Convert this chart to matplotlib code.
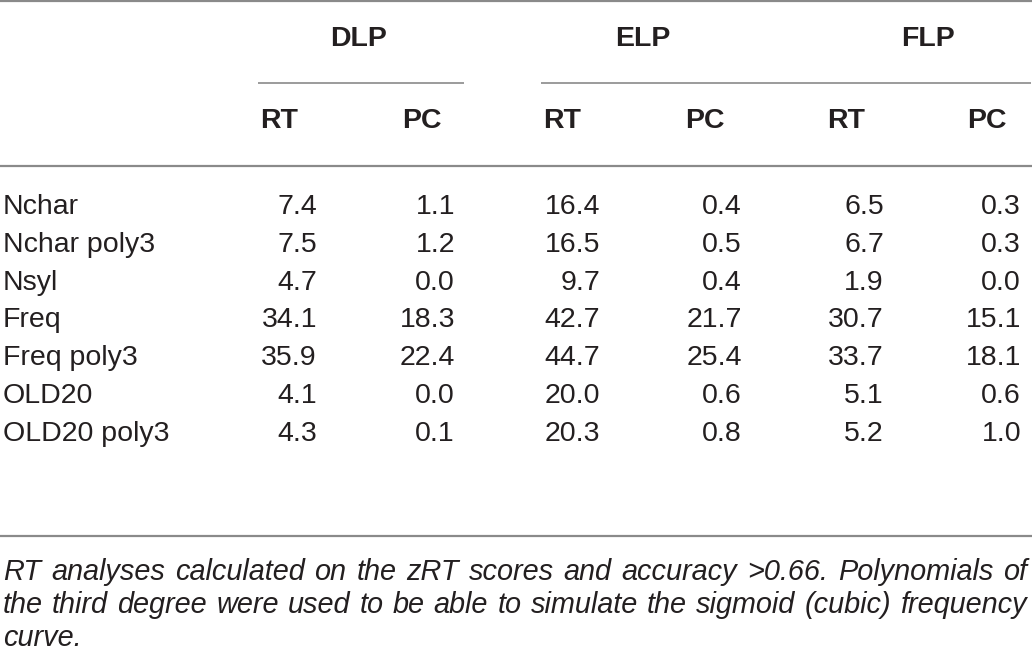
import matplotlib
matplotlib.use("Agg")
import matplotlib.pyplot as plt
from matplotlib import font_manager

# --- table content ---------------------------------------------------------------
groups = ["DLP", "ELP", "FLP"]
subcols = ["RT", "PC", "RT", "PC", "RT", "PC"]
rows = ["Nchar", "Nchar poly3", "Nsyl", "Freq", "Freq poly3", "OLD20", "OLD20 poly3"]
dlp_rt = [7.4, 7.5, 4.7, 34.1, 35.9, 4.1, 4.3]
dlp_pc = [1.1, 1.2, 0.0, 18.3, 22.4, 0.0, 0.1]
elp_rt = [16.4, 16.5, 9.7, 42.7, 44.7, 20.0, 20.3]
elp_pc = [0.4, 0.5, 0.4, 21.7, 25.4, 0.6, 0.8]
flp_rt = [6.5, 6.7, 1.9, 30.7, 33.7, 5.1, 5.2]
flp_pc = [0.3, 0.3, 0.0, 15.1, 18.1, 0.6, 1.0]
footnote = [
    "RT analyses calculated on the zRT scores and accuracy >0.66. Polynomials of",
    "the third degree were used to be able to simulate the sigmoid (cubic) frequency",
    "curve.",
]

W, H = 1032, 663
INK = "#231f20"
RULE = "#8a8a8a"
BODY = "Liberation Sans"


def _has_font(name):
    try:
        font_manager.findfont(name, fallback_to_default=False)
        return True
    except Exception:
        return False


NOTE_FONT = "Liberation Sans Narrow" if _has_font("Liberation Sans Narrow") else BODY

fig = plt.figure(figsize=(W / 100, H / 100), dpi=100)
ax = fig.add_axes([0, 0, 1, 1])
ax.set_xlim(0, W)
ax.set_ylim(H, 0)
ax.axis("off")

# rules (pixel space)
ax.hlines([1, 166, 536], 0, W, color=RULE, lw=1.6)
ax.hlines(83, 258, 464, color=RULE, lw=1.2)
ax.hlines(83, 541, 1031, color=RULE, lw=1.2)

# headers
group_x = [359, 643, 928]
for g, gx in zip(groups, group_x):
    ax.text(gx, 39, g, ha="center", va="center", fontsize=20.5,
            fontweight="bold", family=BODY, color=INK)
sub_x = [260, 402, 543, 685, 827, 967]
for s, sx in zip(subcols, sub_x):
    ax.text(sx, 121, s, ha="left", va="center", fontsize=20.5,
            fontweight="bold", family=BODY, color=INK)

# body
cols = [dlp_rt, dlp_pc, elp_rt, elp_pc, flp_rt, flp_pc]
col_right = [317, 455, 600, 742, 884, 1021]
row_y = [204 + 37.8 * i for i in range(len(rows))]
for lab, y in zip(rows, row_y):
    ax.text(3, y, lab, ha="left", va="center_baseline", fontsize=20.5,
            family=BODY, color=INK)
for vals, xr in zip(cols, col_right):
    for v, y in zip(vals, row_y):
        ax.text(xr, y, f"{v:.1f}", ha="right", va="center_baseline", fontsize=20.5,
                family=BODY, color=INK)

# footnote: size so the longest line just fits, then justify all but the last line
renderer = fig.canvas.get_renderer()
left, right = 3, 1027
probe = ax.text(0, 0, footnote[1], fontsize=10, style="italic", family=NOTE_FONT)
note_size = min(21.0, 10 * (right - left - 8) / probe.get_window_extent(renderer).width)
probe.remove()

note_base = [580, 613, 646]
for i, (line, yb) in enumerate(zip(footnote, note_base)):
    if i == len(footnote) - 1:
        ax.text(left, yb, line, ha="left", va="baseline", fontsize=note_size,
                style="italic", family=NOTE_FONT, color=INK)
        continue
    words = line.split(" ")
    arts = [ax.text(0, yb, w, ha="left", va="baseline", fontsize=note_size,
                    style="italic", family=NOTE_FONT, color=INK) for w in words]
    widths = [a.get_window_extent(renderer).width for a in arts]
    gap = (right - left - sum(widths)) / (len(words) - 1)
    x = left
    for a, w in zip(arts, widths):
        a.set_x(x)
        x += w + gap

fig.savefig("out.png", dpi=100, facecolor="white")
